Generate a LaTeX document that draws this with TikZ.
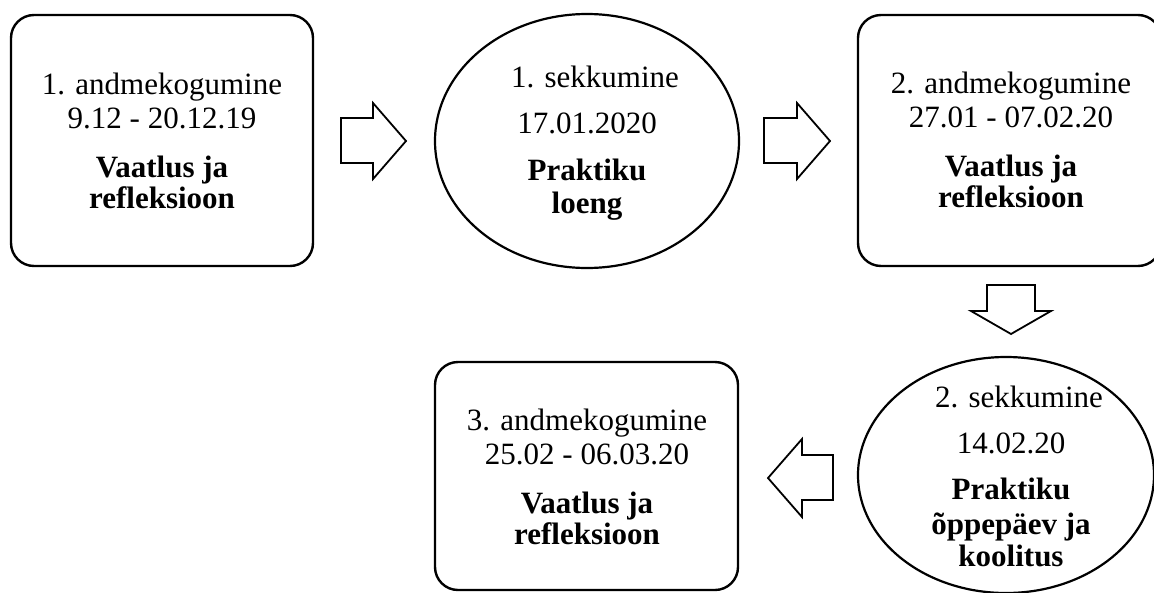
\documentclass[tikz,border=0pt]{standalone}
\usepackage{fontspec}
\setmainfont{Liberation Serif}
\usetikzlibrary{shapes.geometric}
\begin{document}
\begin{tikzpicture}[x=1pt,y=-1pt,
  boxshape/.style={draw, line width=2.4pt, rounded corners=23pt, inner sep=0},
  ovalshape/.style={draw, ellipse, line width=2.2pt, inner sep=0},
  blockarrow/.style={draw, line width=1.8pt, line join=miter},
  txt/.style={anchor=base, inner sep=0, font=\fontsize{31}{30}\selectfont}]
\useasboundingbox (0,0) rectangle (1154,592);
\clip (0,0) rectangle (1154,592);

% shapes
\node[boxshape, minimum width=302pt, minimum height=251pt] (b1) at (162,140.5) {};
\node[ovalshape, minimum width=304pt, minimum height=254pt] (e1) at (587,141) {};
\node[boxshape, minimum width=303pt, minimum height=251pt] (b2) at (1009.5,140.5) {};
\node[ovalshape, minimum width=296pt, minimum height=236pt] (e2) at (1006,475) {};
\node[boxshape, minimum width=303pt, minimum height=228pt] (b3) at (586.5,476) {};

% texts
\node[txt] (t1) at (162,94) {\begin{tabular}[t]{@{}c@{}}1. andmekogumine\\[4pt]9.12 - 20.12.19\\[19pt]\bfseries Vaatlus ja\\\bfseries refleksioon\end{tabular}};
\node[txt] (t2) at (587,87) {\begin{tabular}[t]{@{}c@{}}\hspace*{16pt}1. sekkumine\\[16pt]17.01.2020\\[17pt]\bfseries Praktiku\\[2pt]\bfseries loeng\end{tabular}};
\node[txt] (t3) at (1011,93) {\begin{tabular}[t]{@{}c@{}}2. andmekogumine\\[4pt]27.01 - 07.02.20\\[19pt]\bfseries Vaatlus ja\\\bfseries refleksioon\end{tabular}};
\node[txt] (t4) at (1011,407) {\begin{tabular}[t]{@{}c@{}}\hspace*{16pt}2. sekkumine\\[16pt]14.02.20\\[16pt]\bfseries Praktiku\\[4pt]\bfseries õppepäev ja\\[2pt]\bfseries koolitus\end{tabular}};
\node[txt] (t5) at (587,430) {\begin{tabular}[t]{@{}c@{}}3. andmekogumine\\[4pt]25.02 - 06.03.20\\[19pt]\bfseries Vaatlus ja\\\bfseries refleksioon\end{tabular}};

% block arrows
\draw[blockarrow] (341,118) -- (373,118) -- (373,103) -- (406,141) -- (373,179) -- (373,163) -- (341,163) -- cycle;
\draw[blockarrow] (764,118) -- (797,118) -- (797,103) -- (830,141) -- (797,179) -- (797,163) -- (764,163) -- cycle;
\draw[blockarrow] (987,285) -- (1035,285) -- (1035,311) -- (1051,311) -- (1011,334) -- (971,311) -- (987,311) -- cycle;
\draw[blockarrow] (833,455) -- (802,455) -- (802,439) -- (768,478) -- (802,517) -- (802,500) -- (833,500) -- cycle;
\end{tikzpicture}
\end{document}
